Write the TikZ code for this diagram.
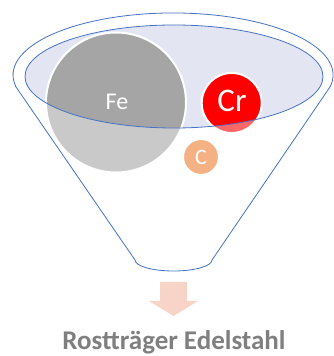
\documentclass[tikz,border=0pt]{standalone}
\usepackage{fontspec}
\setmainfont{Carlito}

\begin{document}
\begin{tikzpicture}[x=1pt,y=1pt]
  \definecolor{rim}{HTML}{4472C4}
  \definecolor{bowl}{HTML}{E3E6F2}
  \definecolor{iron}{HTML}{A5A5A5}
  \definecolor{chrome}{HTML}{FF0000}
  \definecolor{carbon}{HTML}{ED7D31}
  \definecolor{flow}{HTML}{F8D4C8}
  \definecolor{caption}{HTML}{7F7F7F}
  \path[use as bounding box] (0,0) rectangle (333,356);

  \tikzset{atom/.style={draw=white,line width=2pt},
           symbol/.style={text=white,inner sep=0pt}}

  % Inner mouth of the funnel, the atoms drop in here.
  \fill[bowl] (174,279.5) ellipse [x radius=149,y radius=51.5];
  \filldraw[atom,fill=iron] (116,253.5) circle [radius=70];
  \filldraw[atom,fill=chrome] (231.7,253) circle [radius=30];
  \filldraw[atom,fill=carbon] (201,199) circle [radius=18];

  % Funnel body washes out whatever lies below the mouth.
  \fill[white,opacity=.4,even odd rule]
    (15.9,269.2) -- (135,96) arc [start angle=180,end angle=360,x radius=38.5,y radius=11]
    -- (330.1,269.2) arc [start angle=-11,end angle=191,x radius=160,y radius=62] -- cycle
    (174,279.5) ellipse [x radius=149,y radius=51.5];
  \draw[rim,line width=.8pt]
    (15.9,269.2) -- (135,96) arc [start angle=180,end angle=360,x radius=38.5,y radius=11]
    -- (330.1,269.2) arc [start angle=-11,end angle=191,x radius=160,y radius=62] -- cycle;
  \draw[rim,line width=.8pt] (174,279.5) ellipse [x radius=149,y radius=51.5];

  \node[symbol,font=\fontsize{24}{24}\selectfont] (fe) at (117,254) {Fe};
  \node[symbol,font=\fontsize{33}{33}\selectfont] (cr) at (232,255) {Cr};
  \node[symbol,font=\fontsize{22}{22}\selectfont] (c) at (201,199) {C};

  \fill[flow] (160,74) -- (187,74) -- (187,55) -- (198,55) -- (173.5,40)
    -- (149,55) -- (160,55) -- cycle;
  \node[text=caption,font=\bfseries\fontsize{27}{27}\selectfont,anchor=base] (steel) at (174,6) {Rostträger Edelstahl};
\end{tikzpicture}
\end{document}
